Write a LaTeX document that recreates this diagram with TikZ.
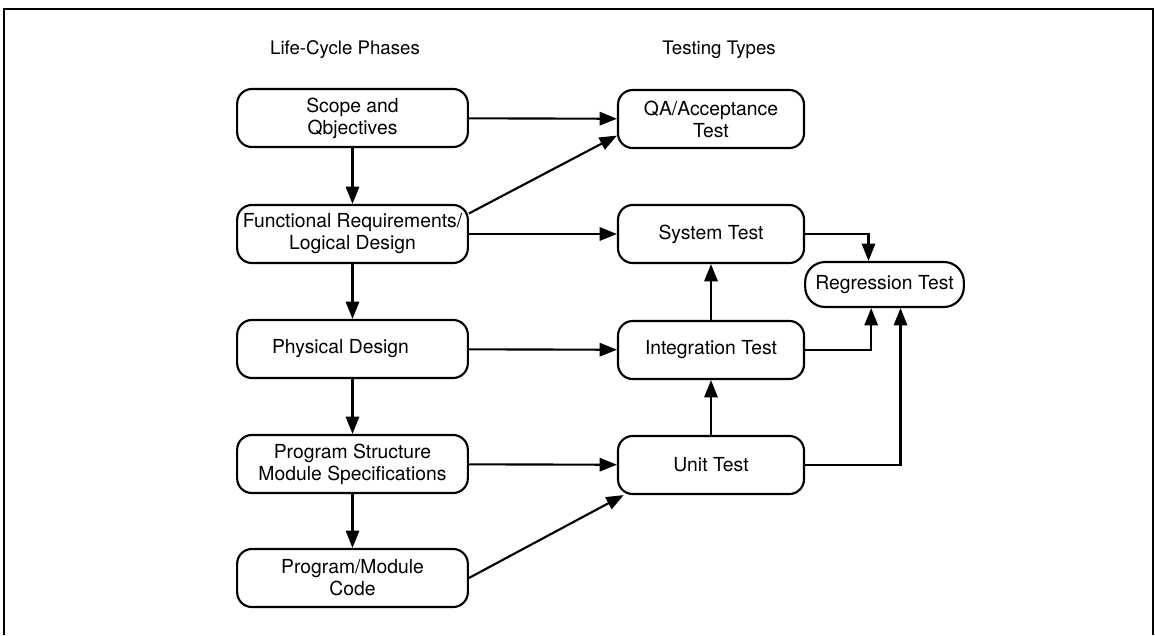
\documentclass[tikz,border=0pt]{standalone}
\usepackage{fontspec}
\setmainfont{TeX Gyre Heros}
\usetikzlibrary{arrows.meta}
\tikzset{box/.style={draw=black,rounded corners=11pt,line width=1.6pt,align=center,inner sep=0pt,font=\fontsize{14.5}{16.5}\selectfont}}
\tikzset{phase/.style={box,minimum width=173pt,minimum height=43.5pt}}
\tikzset{kind/.style={box,minimum width=139.5pt,minimum height=43.5pt}}
\tikzset{flow/.style={-{Triangle[length=13pt,width=10pt]},line width=1.6pt}}

\begin{document}
\begin{tikzpicture}[x=0.75pt,y=-0.75pt]
\useasboundingbox (0,0) rectangle (1155,635);
\draw[line width=1.6pt] (4,635)--(4,9)--(1153,9)--(1153,635);
\node (lchead) at (345,50) {\fontsize{14}{16}\selectfont Life-Cycle Phases};
\node (tthead) at (719,50) {\fontsize{14}{16}\selectfont Testing Types};
% phases
\node (scope) at (352.5,118) [phase] {Scope and\\Qbjectives};
\node (func) at (352.5,234) [phase] {Functional Requirements/\\Logical Design};
\node (phys) at (352.5,349) [phase] {Physical Design\hspace*{18pt}};
\node (prog) at (352.5,464) [phase] {Program Structure\\Module Specifications};
\node (code) at (352.5,578) [phase] {Program/Module\\Code};
% tests
\node (qa) at (711,119) [kind] {QA/Acceptance\\Test};
\node (sys) at (711,234) [kind] {System Test};
\node (integ) at (711,350) [kind] {Integration Test};
\node (unit) at (711,465) [kind] {Unit Test};
\node (reg) at (884.5,284.5) [box,rounded corners=15pt,minimum width=119pt,minimum height=33.75pt] {Regression Test};
\draw[flow] (scope)--(func);
\draw[flow] (func)--(phys);
\draw[flow] (phys)--(prog);
\draw[flow] (prog)--(code);
\draw[flow] (scope)--(qa);
\draw[flow] (func.10)--(qa.190);
\draw[flow] (func)--(sys);
\draw[flow] (phys)--(integ);
\draw[flow] (prog)--(unit);
\draw[flow] (code.east)--(unit.199);
\draw[flow] (unit)--(integ);
\draw[flow] (integ)--(sys);
\draw[flow] (sys.east) -| ([xshift=-12pt]reg.north);
\draw[flow] (integ.east) -| ([xshift=-10pt]reg.south);
\draw[flow] (unit.east) -| ([xshift=12pt]reg.south);
\end{tikzpicture}
\end{document}
